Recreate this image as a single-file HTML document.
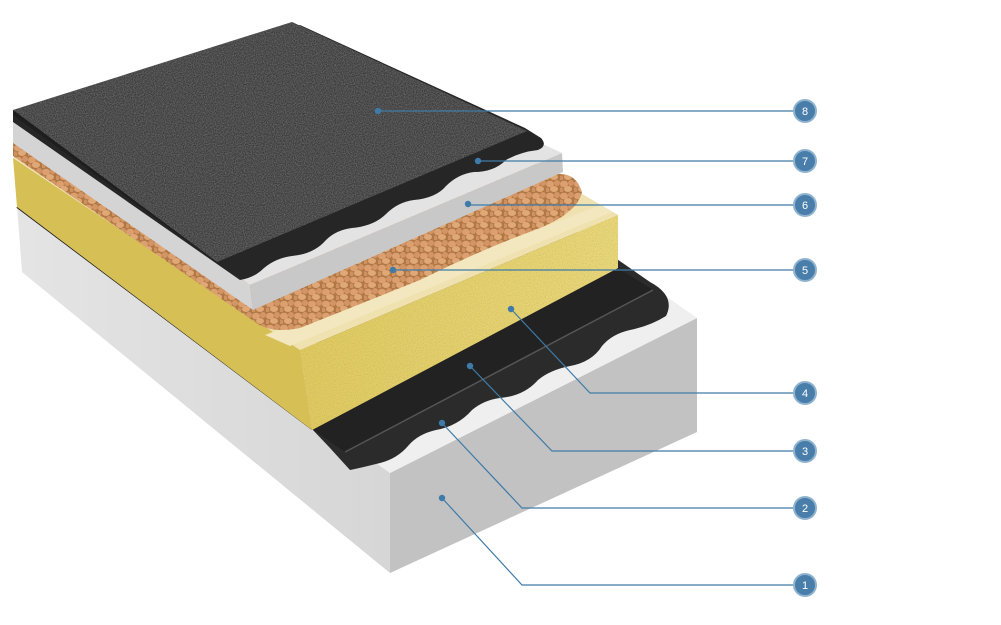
<!DOCTYPE html>
<html><head><meta charset="utf-8"><style>
html,body{margin:0;padding:0;background:#fff;width:1001px;height:625px;overflow:hidden}
svg{display:block}
text{font-family:"Liberation Sans",sans-serif}
</style></head><body>
<svg width="1001" height="625" viewBox="0 0 1001 625" xmlns="http://www.w3.org/2000/svg">
<defs>
<filter id="grit" x="0" y="0" width="100%" height="100%">
<feTurbulence type="fractalNoise" baseFrequency="0.9" numOctaves="2" seed="3" result="n"/>
<feColorMatrix in="n" type="matrix" values="0 0 0 0 0.15  0 0 0 0 0.15  0 0 0 0 0.15  0 0 0 1.8 -0.6" result="d"/>
<feComposite in="d" in2="SourceGraphic" operator="in" result="dd"/>
<feMerge><feMergeNode in="SourceGraphic"/><feMergeNode in="dd"/></feMerge>
</filter>
<pattern id="peb" width="14" height="12" patternUnits="userSpaceOnUse">
<rect width="14" height="12" fill="#b07845"/>
<ellipse cx="4" cy="4" rx="4" ry="3.3" fill="#dca070"/>
<ellipse cx="11" cy="3" rx="3" ry="3" fill="#d49565"/>
<ellipse cx="8" cy="9" rx="4" ry="3" fill="#e0a877"/>
<ellipse cx="1" cy="10" rx="2.5" ry="2.5" fill="#cf915f"/>
</pattern>
<linearGradient id="yel" x1="0" y1="0" x2="1" y2="0"><stop offset="0" stop-color="#e2cc5e"/><stop offset="1" stop-color="#ecd978"/></linearGradient>
<linearGradient id="conL" x1="0" y1="0" x2="1" y2="0"><stop offset="0" stop-color="#e4e4e4"/><stop offset="1" stop-color="#d6d6d6"/></linearGradient>
</defs>

<!-- Concrete -->
<polygon points="17,205 390,473 390,573 22,272" fill="url(#conL)"/>
<polygon points="390,473 697,318 697,432 390,573" fill="#c2c2c2"/>
<polygon points="17,205 330,60 697,318 390,473" fill="#efefef"/>

<!-- membrane 2 (lower) -->
<path d="M312,429 L330,60 L650,282 Q676,296 666,316 Q650,326 630,330 Q612,334 602,346 Q592,362 570,366 Q550,370 538,380 Q524,396 500,398 Q484,400 472,410 Q458,426 436,430 Q418,434 408,446 Q396,460 376,464 Q360,468 350,470 L330,448 Z" fill="#2b2b2b"/>
<path d="M312,429 L618,268 L653,290 L345,452 Z" fill="#222"/>
<line x1="345" y1="452" x2="653" y2="290" stroke="#555" stroke-width="1.5"/>
<line x1="17" y1="207" x2="312" y2="429" stroke="#222" stroke-width="2"/>

<!-- Yellow insulation -->
<polygon points="13,158 320,40 618,215 300,350" fill="#efe2b0"/>
<polygon points="13,158 300,350 312,430 17,207" fill="#d6bf55"/>
<polygon points="300,350 618,215 618,268 312,430" fill="url(#yel)" filter="url(#grit)"/>
<polygon points="300,350 618,215 618,268 312,430" fill="url(#yel)" opacity="0.75"/>
<polygon points="265,335 600,205 612,212 290,346" fill="#f3e7bf"/>

<!-- pebbles layer 5 -->
<path d="M13,156 L255,322 Q270,334 300,328 L420,280 Q480,250 540,228 Q578,212 582,192 Q576,172 556,174 L320,45 L13,138 Z" fill="url(#peb)"/>

<!-- Gray board layer 6 -->
<polygon points="13,122 250,285 253,310 13,143" fill="#d4d4d4"/>
<polygon points="250,285 562,153 563,172 253,310" fill="#c8c8c8"/>
<polygon points="13,115 300,32 562,153 250,285" fill="#e3e3e3"/>

<!-- membrane 7 -->
<path d="M13,112 L300,25 L525,128 L541,138 Q548,146 538,150 Q520,152 506,160 Q494,172 474,172 Q458,174 446,186 Q436,198 414,200 Q398,202 386,214 Q374,226 352,228 Q336,230 326,240 Q314,254 292,256 Q276,258 264,268 Q254,278 240,280 L13,122 Z" fill="#262626"/>

<!-- Top gravel layer 8 -->
<polygon points="13,110 292,22 527,131 217,262" fill="#3c3c3c" filter="url(#grit)"/>
<polygon points="13,110 217,262 222,266 13,115" fill="#1e1e1e"/>

<!-- connectors -->
<g stroke="#3f7ba8" stroke-width="1.2" fill="none">
<line x1="378" y1="111" x2="795" y2="111"/>
<line x1="478" y1="161" x2="795" y2="161"/>
<line x1="468" y1="205" x2="795" y2="205"/>
<line x1="393" y1="270" x2="795" y2="270"/>
<polyline points="511,309 590,393 795,393"/>
<polyline points="470,366 552,451 795,451"/>
<polyline points="442,423 522,508 795,508"/>
<polyline points="442,498 522,585 795,585"/>
</g>
<g fill="#3f7ba8">
<circle cx="378" cy="111" r="3.2"/><circle cx="478" cy="161" r="3.2"/><circle cx="468" cy="204" r="3.2"/>
<circle cx="393" cy="270" r="3.2"/><circle cx="511" cy="309" r="3.2"/><circle cx="470" cy="366" r="3.2"/>
<circle cx="442" cy="423" r="3.2"/><circle cx="442" cy="498" r="3.2"/>
</g>
<g fill="#4a7eaa" stroke="#8fb3cf" stroke-width="2">
<circle cx="805" cy="111" r="11"/><circle cx="805" cy="161" r="11"/><circle cx="805" cy="205" r="11"/>
<circle cx="805" cy="270" r="11"/><circle cx="805" cy="393" r="11"/><circle cx="805" cy="451" r="11"/>
<circle cx="805" cy="508" r="11"/><circle cx="805" cy="585" r="11"/>
</g>
<g fill="#fff" font-size="11" text-anchor="middle">
<text x="805" y="115">8</text><text x="805" y="165">7</text><text x="805" y="209">6</text>
<text x="805" y="274">5</text><text x="805" y="397">4</text><text x="805" y="455">3</text>
<text x="805" y="512">2</text><text x="805" y="589">1</text>
</g>
</svg>
</body></html>
